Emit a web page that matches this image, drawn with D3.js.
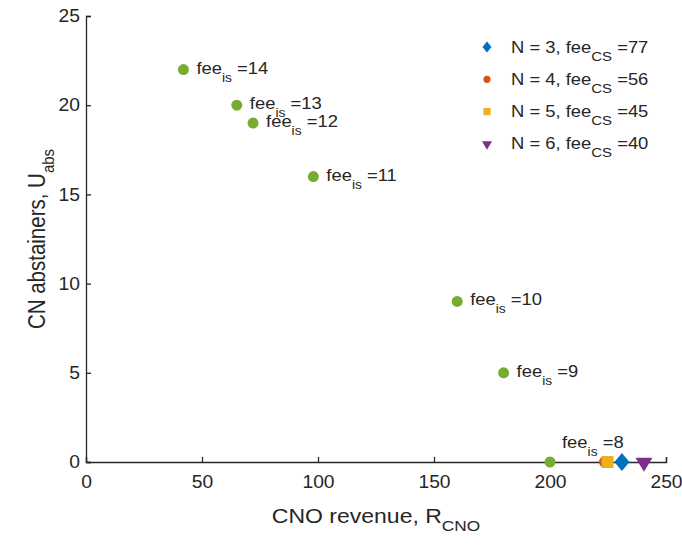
<!DOCTYPE html>
<html>
<head>
<meta charset="utf-8">
<script src="https://cdn.jsdelivr.net/npm/d3@7"></script>
<style>
  body { margin: 0; background: #fff; }
  text { font-family: "Liberation Sans", Arial, sans-serif; fill: #262626; }
</style>
</head>
<body>
<div id="vis"></div>
<script>
// fee_is sweep (green points)
var feeIs = [14, 13, 12, 11, 10, 9, 8];
var revenue = [42, 65, 72, 98, 160, 180, 200];
var abstainers = [22, 20, 19, 16, 9, 5, 0];

// N-series points
var nValues = [3, 4, 5, 6];
var feeCS = [77, 56, 45, 40];
var nRevenue = [231, 223.7, 224.8, 240.5];
var nAbstainers = [0, 0, 0, 0];

var xTicks = [0, 50, 100, 150, 200, 250];
var yTicks = [0, 5, 10, 15, 20, 25];

var width = 682, height = 546,
    margin = {top: 16, right: 16, bottom: 84, left: 86},
    sx = 1.15; // glyphs in the picture are a bit wide

var colors = ["#0072BD", "#D95319", "#EDB120", "#7E2F8E"];
var shapes = ["diamond", "circle", "square", "tri"];
var green = "#77AC30";

var svg = d3.select("#vis").append("svg")
    .attr("width", width)
    .attr("height", height);

var x = d3.scaleLinear().domain([0, 250]).range([margin.left, width - margin.right]);
var y = d3.scaleLinear().domain([0, 25]).range([height - margin.bottom, margin.top]);

var xAxis = d3.axisBottom(x).tickValues(xTicks).tickSize(-5).tickPadding(11);
var yAxis = d3.axisLeft(y).tickValues(yTicks).tickSize(-5).tickPadding(6);

var gx = svg.append("g")
    .attr("transform", "translate(0," + y(0) + ")")
    .call(xAxis);
var gy = svg.append("g")
    .attr("transform", "translate(" + x(0) + ",0)")
    .call(yAxis);

[gx, gy].forEach(function(g) {
    g.select(".domain").attr("stroke", "#262626").attr("stroke-width", 1.3);
    g.selectAll(".tick line").attr("stroke", "#262626").attr("stroke-width", 1.3);
    g.selectAll(".tick text").style("font-size", "17.5px").attr("fill", "#262626")
        .style("font-family", "Liberation Sans, Arial, sans-serif");
});
gx.selectAll(".tick text").attr("dy", "0.87em").attr("transform", "scale(1.1,1)");
gy.selectAll(".tick text").attr("x", 0).attr("transform", "translate(-6,0) scale(1.1,1)");

// axis titles
var xt = svg.append("text")
    .attr("transform", "translate(" + ((x(0) + x(250)) / 2) + ",523) scale(" + sx + ",1)")
    .attr("text-anchor", "middle")
    .style("font-size", "20px");
xt.append("tspan").text("CNO revenue, R");
xt.append("tspan").attr("dy", 8).style("font-size", "15px").text("CNO");

var yt = svg.append("text")
    .attr("transform", "translate(45," + ((y(0) + y(25)) / 2) + ") scale(" + sx + ",1) rotate(-90)")
    .attr("text-anchor", "middle")
    .style("font-size", "20.5px");
yt.append("tspan").text("CN abstainers, U");
yt.append("tspan").attr("dy", 8).style("font-size", "15px").text("abs");

function markerPath(shape, s) {
    // s = overall size factor (1 = plot marker)
    if (shape === "tri") {
        return "M" + (-8.5 * s) + "," + (-4.3 * s) + "L" + (8.5 * s) + "," + (-4.3 * s) + "L0," + (9.7 * s) + "Z";
    }
    if (shape === "diamond") {
        return "M0," + (-9 * s) + "L" + (7.5 * s) + ",0L0," + (9 * s) + "L" + (-7.5 * s) + ",0Z";
    }
    if (shape === "square") {
        var h = 6 * s;
        return "M" + (-h) + "," + (-h) + "H" + h + "V" + h + "H" + (-h) + "Z";
    }
    return d3.symbol().type(d3.symbolCircle).size(113 * s * s)();
}

var greenPts = feeIs.map(function(f, i) {
    return {fee: f, r: revenue[i], u: abstainers[i]};
});

var nPts = nValues.map(function(n, i) {
    return {n: n, fee: feeCS[i], r: nRevenue[i], u: nAbstainers[i], c: colors[i], s: shapes[i]};
});

svg.selectAll(".gpt")
    .data(greenPts)
    .enter().append("circle")
    .attr("class", "gpt")
    .attr("cx", function(d) { return x(d.r); })
    .attr("cy", function(d) { return y(d.u); })
    .attr("r", 5.5)
    .attr("fill", green);

var drawOrder = [1, 2, 0, 3];
drawOrder.forEach(function(i) {
    var d = nPts[i];
    svg.append("path")
        .attr("d", markerPath(d.s, 1))
        .attr("transform", "translate(" + x(d.r) + "," + y(d.u) + ")")
        .attr("fill", d.c);
});

// labels next to green points
var labels = svg.selectAll(".lbl")
    .data(greenPts)
    .enter().append("text")
    .attr("class", "lbl")
    .attr("transform", function(d) {
        var dx = d.fee === 8 ? 12 : 13, dy = d.fee === 8 ? -14 : 4;
        return "translate(" + (x(d.r) + dx) + "," + (y(d.u) + dy) + ") scale(" + sx + ",1)";
    })
    .style("font-size", "16px");
labels.append("tspan").text("fee");
labels.append("tspan").attr("dy", 8).style("font-size", "12px").text("is");
labels.append("tspan").attr("dy", -8).text(function(d) { return " =" + d.fee; });

// legend
var legend = svg.append("g").attr("transform", "translate(487,47)");
nPts.forEach(function(d, i) {
    var row = legend.append("g").attr("transform", "translate(0," + (i * 32.3) + ")");
    row.append("path").attr("d", markerPath(d.s, d.s === "diamond" ? 0.6 : 0.6)).attr("fill", d.c);
    var t = row.append("text")
        .attr("transform", "translate(24,5.5) scale(" + sx + ",1)")
        .style("font-size", "16px");
    t.append("tspan").text("N = " + d.n + ", fee");
    t.append("tspan").attr("dy", 8).style("font-size", "13px").text("CS");
    t.append("tspan").attr("dy", -8).text(" =" + d.fee);
});
</script>
</body>
</html>
